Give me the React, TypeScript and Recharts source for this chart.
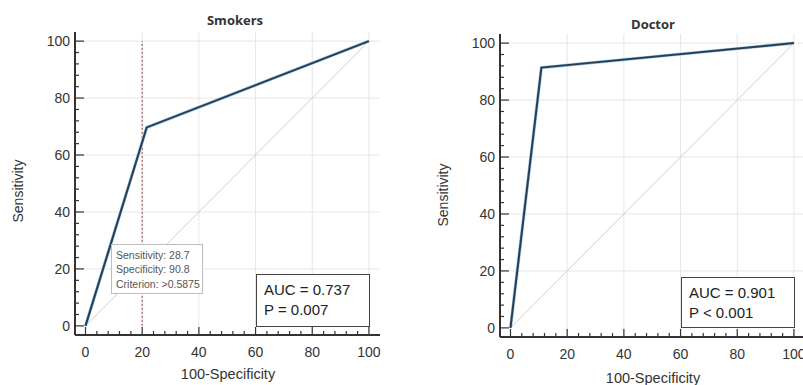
import { LineChart, Line, XAxis, YAxis, ReferenceLine } from 'recharts';

// ROC points (100-Specificity, Sensitivity)
const smokersFpr = [0, 21.6, 100];
const smokersTpr = [0, 69.7, 100];
const doctorFpr = [0, 10.9, 100];
const doctorTpr = [0, 91.4, 100];
const chanceFpr = [0, 100];
const chanceTpr = [0, 100];

const majorTicks = [0, 20, 40, 60, 80, 100];
const allTicks = [0, 4, 8, 12, 16, 20, 24, 28, 32, 36, 40, 44, 48, 52, 56, 60, 64, 68, 72, 76, 80, 84, 88, 92, 96, 100];
const gridValues = [20, 40, 60, 80, 100];
const criterionX = 20;

const toPoints = (xs: number[], ys: number[]) => xs.map((x, i) => ({ x, y: ys[i] }));

const AXIS = '#333';
const FONT = '"Liberation Sans", Arial, sans-serif';

const XTick = (props: any) => {
  const { x, y, payload } = props;
  const major = majorTicks.includes(payload.value);
  return (
    <g>
      <line x1={x} x2={x} y1={y} y2={y - (major ? 8 : 4)} stroke={AXIS} strokeWidth={1.2} />
      {major && (
        <text x={x} y={y + 22} textAnchor="middle" fontSize={14} fontFamily={FONT} fill="#333">
          {payload.value}
        </text>
      )}
    </g>
  );
};

const YTick = (props: any) => {
  const { x, y, payload } = props;
  const major = majorTicks.includes(payload.value);
  return (
    <g>
      <line x1={x} x2={x + (major ? 9 : 4)} y1={y} y2={y} stroke={AXIS} strokeWidth={1.2} />
      {major && (
        <text x={x - 5} y={y + 5} textAnchor="end" fontSize={14} fontFamily={FONT} fill="#333">
          {payload.value}
        </text>
      )}
    </g>
  );
};

interface PanelProps {
  roc: { x: number; y: number }[];
  left: number;
  top: number;
  criterion?: number;
}

function RocPanel({ roc, left, top, criterion }: PanelProps) {
  const W = 810;
  const H = 385;
  const plotW = 305;
  const plotH = 303;
  return (
    <div style={{ position: 'absolute', left: 0, top: 0 }}>
      <LineChart
        width={W}
        height={H}
        margin={{ top, left: left - 1, right: W - left - plotW, bottom: H - top - plotH - 1 }}
      >
        <XAxis
          dataKey="x"
          type="number"
          domain={[-3.7, 103.9]}
          ticks={allTicks}
          interval={0}
          height={1}
          tickSize={0}
          tickMargin={0}
          tickLine={false}
          tick={(p: any) => <XTick {...p} />}
          axisLine={{ stroke: AXIS, strokeWidth: 2 }}
          allowDataOverflow
        />
        <YAxis
          dataKey="y"
          type="number"
          domain={[-3.2, 103.2]}
          ticks={allTicks}
          interval={0}
          width={1}
          tickSize={0}
          tickMargin={0}
          tickLine={false}
          tick={(p: any) => <YTick {...p} />}
          axisLine={{ stroke: AXIS, strokeWidth: 2 }}
          allowDataOverflow
        />
        {gridValues.map((v) => (
          <ReferenceLine key={'gx' + v} x={v} stroke="#e6e6e6" strokeWidth={1} />
        ))}
        {gridValues.map((v) => (
          <ReferenceLine key={'gy' + v} y={v} stroke="#e6e6e6" strokeWidth={1} />
        ))}
        <Line
          data={toPoints(chanceFpr, chanceTpr)}
          dataKey="y"
          type="linear"
          stroke="#cfcfcf"
          strokeWidth={1}
          dot={false}
          isAnimationActive={false}
        />
        {criterion !== undefined && (
          <ReferenceLine
            segment={[{ x: criterion, y: 0 }, { x: criterion, y: 100 }]}
            stroke="#9a4040"
            strokeWidth={1}
            strokeDasharray="2 2"
          />
        )}
        <Line
          data={roc}
          dataKey="y"
          type="linear"
          stroke="#9cc8e8"
          strokeWidth={3.2}
          dot={false}
          isAnimationActive={false}
        />
        <Line
          data={roc}
          dataKey="y"
          type="linear"
          stroke="#2a3d52"
          strokeWidth={2}
          dot={false}
          isAnimationActive={false}
        />
      </LineChart>
    </div>
  );
}

const boxText: React.CSSProperties = {
  position: 'absolute',
  fontFamily: FONT,
  color: '#222',
  background: '#fff',
  boxSizing: 'border-box',
};

export default function App() {
  return (
    <div
      style={{
        position: 'absolute',
        left: 0,
        top: 0,
        width: 803,
        height: 385,
        overflow: 'hidden',
        background: '#fff',
      }}
    >
      <RocPanel roc={toPoints(smokersFpr, smokersTpr)} left={75} top={32} criterion={criterionX} />
      <RocPanel roc={toPoints(doctorFpr, doctorTpr)} left={500} top={34} />

      {/* titles */}
      <div style={{ position: 'absolute', left: 135, width: 200, top: 11, textAlign: 'center', fontFamily: '"Open Sans", sans-serif', fontWeight: 700, fontSize: 13, color: '#333' }}>
        Smokers
      </div>
      <div style={{ position: 'absolute', left: 553, width: 200, top: 15, textAlign: 'center', fontFamily: '"Open Sans", sans-serif', fontWeight: 700, fontSize: 13, color: '#333' }}>
        Doctor
      </div>

      {/* axis titles */}
      <div style={{ position: 'absolute', left: 18 - 60, width: 120, top: 192 - 9, textAlign: 'center', transform: 'rotate(-90deg)', fontFamily: FONT, fontSize: 14, color: '#333' }}>
        Sensitivity
      </div>
      <div style={{ position: 'absolute', left: 443 - 60, width: 120, top: 196 - 9, textAlign: 'center', transform: 'rotate(-90deg)', fontFamily: FONT, fontSize: 14, color: '#333' }}>
        Sensitivity
      </div>
      <div style={{ position: 'absolute', left: 228 - 80, width: 160, top: 366, textAlign: 'center', fontFamily: FONT, fontSize: 14.5, color: '#333' }}>
        100-Specificity
      </div>
      <div style={{ position: 'absolute', left: 653 - 80, width: 160, top: 370, textAlign: 'center', fontFamily: FONT, fontSize: 14.5, color: '#333' }}>
        100-Specificity
      </div>

      {/* criterion box */}
      <div style={{ ...boxText, left: 111, top: 244, width: 92, height: 50, border: '1px solid #bdbdbd', padding: '3px 0 0 4px', fontSize: 10.5, lineHeight: '14.3px', color: '#555' }}>
        <div>Sensitivity: 28.7</div>
        <div>Specificity: 90.8</div>
        <div>Criterion: &gt;0.5875</div>
      </div>

      {/* AUC boxes */}
      <div style={{ ...boxText, left: 256, top: 274, width: 114, height: 53, border: '1.5px solid #444', padding: '5px 0 0 7px', fontSize: 15, lineHeight: '20px' }}>
        <div>AUC = 0.737</div>
        <div>P = 0.007</div>
      </div>
      <div style={{ ...boxText, left: 681, top: 277, width: 114, height: 51, border: '1.5px solid #444', padding: '5px 0 0 7px', fontSize: 15, lineHeight: '20px' }}>
        <div>AUC = 0.901</div>
        <div>P &lt; 0.001</div>
      </div>
    </div>
  );
}
